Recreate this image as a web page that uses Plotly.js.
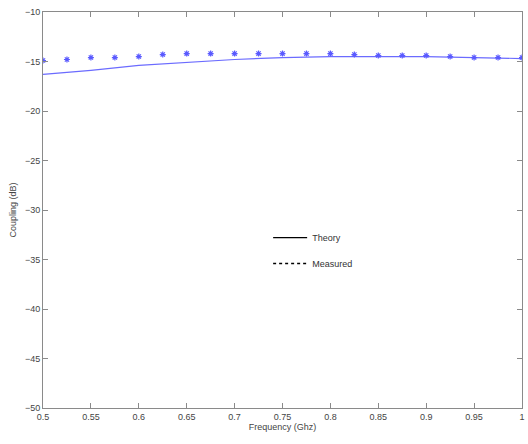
<!DOCTYPE html>
<html>
<head>
<meta charset="utf-8">
<script src="https://cdn.plot.ly/plotly-3.0.1.min.js"></script>
<style>html,body{margin:0;padding:0;background:#fff;}#chart{width:528px;height:444px;}</style>
</head>
<body>
<div id="chart"></div>
<script>
const theoryFreq = [0.5, 0.55, 0.6, 0.65, 0.7, 0.75, 0.8, 0.85, 0.9, 0.95, 1.0];
const theoryCoupling = [-16.3, -15.9, -15.4, -15.1, -14.8, -14.6, -14.5, -14.5, -14.5, -14.6, -14.7];
const measuredFreq = [0.5, 0.525, 0.55, 0.575, 0.6, 0.625, 0.65, 0.675, 0.7, 0.725, 0.75, 0.775, 0.8, 0.825, 0.85, 0.875, 0.9, 0.925, 0.95, 0.975, 1.0];
const measuredCoupling = [-14.9, -14.8, -14.6, -14.6, -14.5, -14.3, -14.2, -14.2, -14.2, -14.2, -14.2, -14.2, -14.2, -14.3, -14.4, -14.4, -14.4, -14.5, -14.6, -14.6, -14.6];
const xTicks = [0.5, 0.55, 0.6, 0.65, 0.7, 0.75, 0.8, 0.85, 0.9, 0.95, 1];
const xTickText = ['0.5', '0.55', '0.6', '0.65', '0.7', '0.75', '0.8', '0.85', '0.9', '0.95', '1'];
const yTicks = [-50, -45, -40, -35, -30, -25, -20, -15, -10];
const legendNames = ['Theory', 'Measured'];

const blue = '#6b6bff';
const traces = [
  {x: theoryFreq, y: theoryCoupling, mode: 'lines', line: {color: blue, width: 1.2}, showlegend: false, hoverinfo: 'skip'},
  {x: measuredFreq, y: measuredCoupling, mode: 'markers', marker: {symbol: 'asterisk-open', size: 5, color: '#5a5aff', line: {color: '#5a5aff', width: 1.2}}, showlegend: false, hoverinfo: 'skip'},
  {x: [null], y: [null], mode: 'lines', name: legendNames[0], legendgroup: 'a', line: {color: '#000', width: 1.2}},
  {x: [null], y: [null], mode: 'lines', name: legendNames[1], legendgroup: 'b', line: {color: '#000', width: 1.5, dash: 'dot'}}
];

const axisCommon = {
  showgrid: false, zeroline: false, showline: true, linecolor: '#8a8a8a', linewidth: 1,
  mirror: 'ticks', ticks: 'inside', ticklen: 5, tickcolor: '#8a8a8a',
  tickfont: {family: 'Liberation Sans, Arial, sans-serif', size: 9, color: '#444'}
};

const layout = {
  width: 528, height: 444,
  margin: {l: 43, r: 6, t: 12, b: 36},
  paper_bgcolor: '#fff', plot_bgcolor: '#fff',
  xaxis: Object.assign({}, axisCommon, {
    range: [0.5, 1], tickvals: xTicks, ticktext: xTickText,
    title: {text: 'Frequency (Ghz)', standoff: 2, font: {family: 'Liberation Sans, Arial, sans-serif', size: 9, color: '#444'}}
  }),
  yaxis: Object.assign({}, axisCommon, {
    range: [-50, -10], tickvals: yTicks,
    title: {text: 'Coupling (dB)', standoff: 6, font: {family: 'Liberation Sans, Arial, sans-serif', size: 9, color: '#444'}}
  }),
  legend: {
    x: 0.47, y: 0.467, xanchor: 'left', yanchor: 'top',
    bgcolor: 'rgba(0,0,0,0)', borderwidth: 0,
    font: {family: 'Liberation Sans, Arial, sans-serif', size: 9, color: '#333'},
    tracegroupgap: 7, itemwidth: 34
  }
};

Plotly.newPlot('chart', traces, layout, {displayModeBar: false, staticPlot: true});
</script>
</body>
</html>
